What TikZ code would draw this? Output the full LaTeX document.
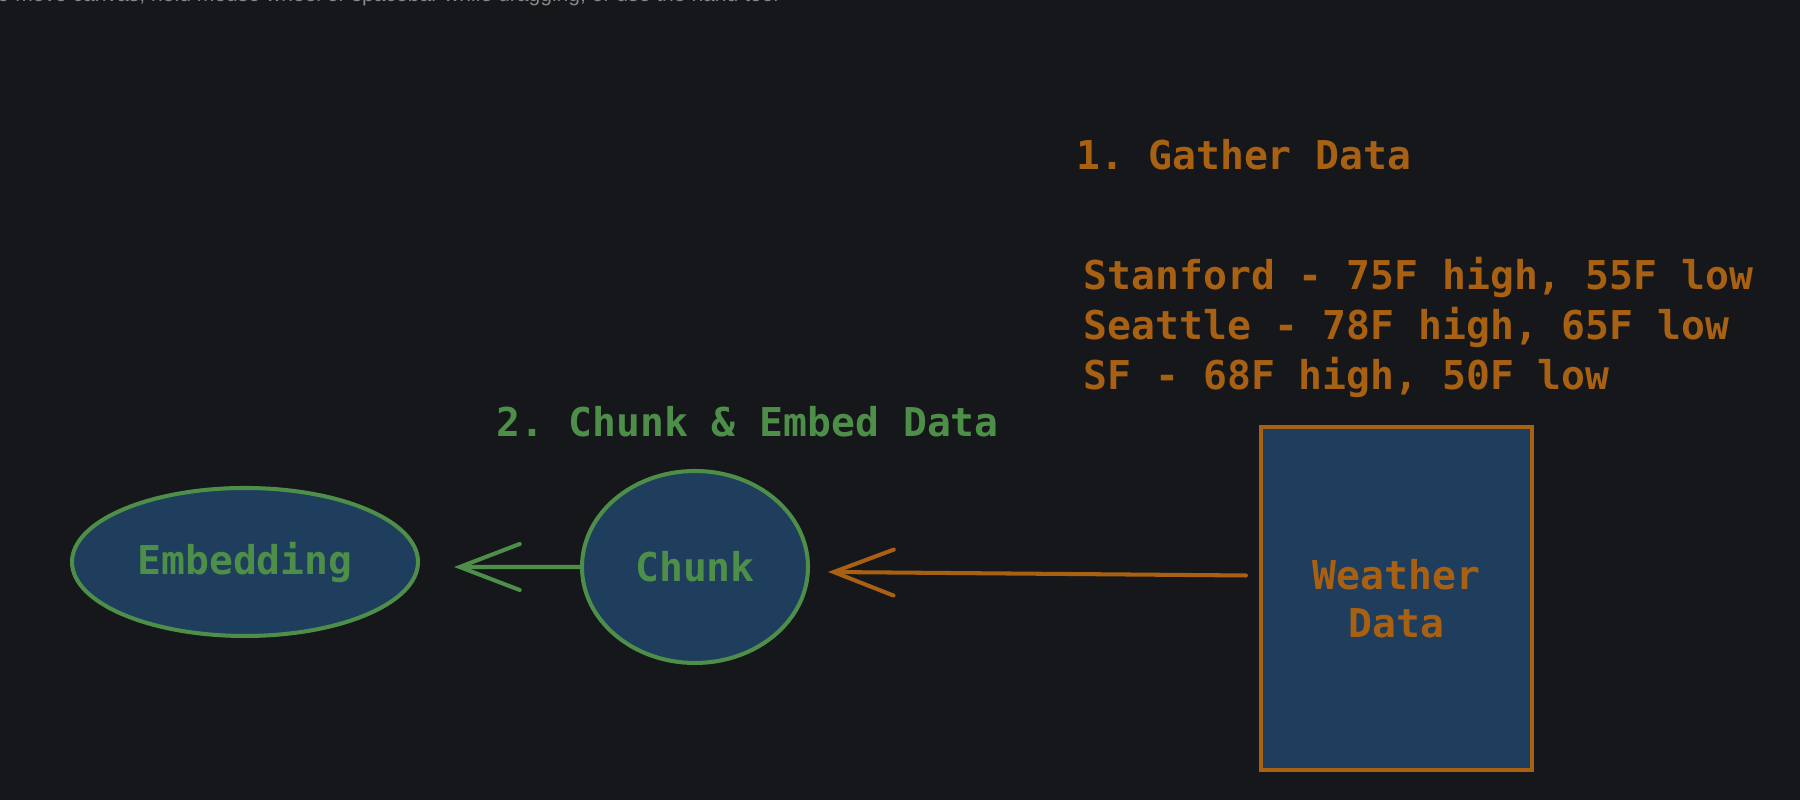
\documentclass[tikz,border=0pt]{standalone}
\usepackage{fontspec}
\setmonofont{DejaVu Sans Mono}
\setsansfont{Liberation Sans}
\usepackage{tikz}
\usetikzlibrary{shapes.geometric, arrows.meta, positioning}
\definecolor{canvasdark}{RGB}{22, 23, 26}
\definecolor{nodeblue}{RGB}{31, 61, 92}
\definecolor{gatherorange}{RGB}{168, 96, 18}
\definecolor{embedgreen}{RGB}{77, 143, 73}
\definecolor{hintgray}{RGB}{135, 135, 138}

\begin{document}
\begin{tikzpicture}[
    base/.style={draw, line width=1.15pt, fill=nodeblue, align=center, inner sep=0pt, font=\fontsize{11.3pt}{13.7pt}\selectfont\ttfamily\bfseries},
    greenbox/.style={base, ellipse, draw=embedgreen, text=embedgreen},
    orangebox/.style={base, rectangle, draw=gatherorange, text=gatherorange},
    label/.style={inner sep=0pt, anchor=base west, font=\fontsize{11.3pt}{13.7pt}\selectfont\ttfamily\bfseries},
    arrow/.style={-{Straight Barb[length=6mm, width=4.6mm, line cap=round]}, line width=1.15pt, line cap=round}
]
    \useasboundingbox (0, 0) rectangle (18, 8);
    \clip (0, 0) rectangle (18, 8);
    \fill[canvasdark] (0, 0) rectangle (18, 8);

    % --- CANVAS HINT (cut off at the top) ---
    \node[inner sep=0pt, anchor=base west, text=hintgray, font=\fontsize{6pt}{7pt}\selectfont\sffamily] (hint) at (-0.03, 7.98) {o move canvas, hold mouse wheel or spacebar while dragging, or use the hand tool};

    % --- STEP 1: GATHER DATA ---
    \node[label, text=gatherorange] (gather) at (10.76, 6.30) {1. Gather Data};
    \node[label, text=gatherorange] (stanford) at (10.83, 5.10) {Stanford - 75F high, 55F low};
    \node[label, text=gatherorange] (seattle) at (10.83, 4.60) {Seattle - 78F high, 65F low};
    \node[label, text=gatherorange] (sf) at (10.83, 4.10) {SF - 68F high, 50F low};

    \node[orangebox, minimum width=2.71cm, minimum height=3.43cm] (weather) at (13.965, 2.015) {Weather\\ Data};

    % --- STEP 2: CHUNK & EMBED ---
    \node[label, text=embedgreen] (chunkembed) at (4.96, 3.63) {2. Chunk \& Embed Data};

    \node[greenbox, minimum width=2.26cm, minimum height=1.92cm] (chunk) at (6.95, 2.33) {Chunk};
    \node[greenbox, minimum width=3.46cm, minimum height=1.48cm] (embed) at (2.45, 2.38) {Embedding};

    \draw[arrow, gatherorange] ([shift={(-0.13, 0.23)}]weather.west) -- ([shift={(0.18, -0.05)}]chunk.east);
    \draw[arrow, embedgreen] (chunk.west) -- ([shift={(0.34, -0.05)}]embed.east);

\end{tikzpicture}
\end{document}
